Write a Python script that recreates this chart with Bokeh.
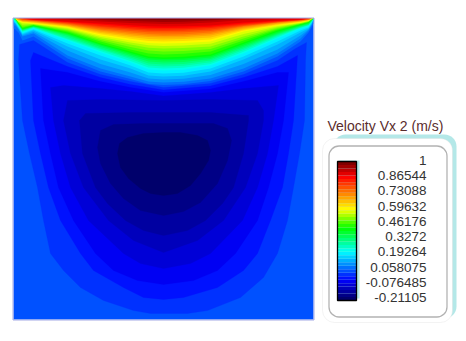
from bokeh.embed import file_html
from bokeh.resources import INLINE
from bokeh.plotting import figure
from bokeh.models import Range1d, BoxAnnotation
from bokeh.core.properties import value

# Colour-bar values
title = "Velocity Vx 2 (m/s)"
tick_values = [1, 0.86544, 0.73088, 0.59632, 0.46176, 0.3272, 0.19264, 0.058075, -0.076485, -0.21105]
tick_labels = ["1", "0.86544", "0.73088", "0.59632", "0.46176", "0.3272", "0.19264", "0.058075", "-0.076485", "-0.21105"]
vmin, vmax = -0.21105, 1.0
n_bands = 40

# Cavity coordinates: x along the lid, d depth below the lid
cavity_w, cavity_d = 300, 301

# Closed Vx isolines around the vortex (band edge number -> outline)
L8_x = [9,16,24,30,37,50,67,90,120,137,174,194,227,250,264,274,280,286,291,292,293,282,264,230,197,150,117,87,54,20,6,5]
L8_d = [102,135,169,202,235,252,269,282,292,295,295,292,279,259,235,202,169,135,102,42,24,30,42,56,65,69,63,56,44,22,26,42]
L7_x = [20,27,35,47,67,80,110,130,150,170,204,230,244,257,269,275,280,284,264,230,197,150,117,87,54,20,17]
L7_d = [102,135,169,202,235,252,269,279,281,279,269,252,235,202,169,135,102,37,48,59,67.5,71.5,66,59,48,34,42]
L6_x = [30,37,45,60,82,100,124,150,180,204,222,244,255,264,270,275,264,230,197,150,117,87,54,27]
L6_d = [102,135,169,202,235,252,262,266,262,252,235,202,169,135,102,54,54,63,70.5,74,69,63,54,50]
L5_x = [40,47,57,75,110,127,150,177,197,229,244,254,260,265,230,197,150,117,87,50,37]
L5_d = [102,135,169,202,235,245,250,245,235,202,169,135,102,67,70,74,77.5,73,70,67,69]
L4_x = [50,57,70,95,120,150,184,210,232,244,250,250,244,197,150,117,87,54]
L4_d = [102,135,169,202,222,234,222,202,169,135,102,92,82,81,82,81.5,81,82]
L3_x = [66,69,82,94,112,130,150,174,192,209,220,230,235,235,197,150,117,72]
L3_d = [102,135,169,185,202,212,217,212,202,185,169,135,102,97,94,94,94,95]
L2_x = [84,87,97,110,127,150,170,187,204,214,218,214,200,167,130,100,87]
L2_d = [129,145,165,180,192,197,193,184,165,142,122,110,105,105,105,106,112]
L1_x = [104,107,115,127,137,150,164,177,187,195,197,194,184,167,150,130,114,106]
L1_d = [135,149,160,170,175,177,175,167,155,142,132,122,117,114,114,115,119,125]

# Open isolines under the lid: depth at each station
arc_x = [0,2,5,9,20,54,87,117,135,150,170,197,230,264,287,295,298,300]
L09 = [10,11,14,22,18,40,53,60.5,65.5,66.5,65.8,62.5,53,38,23,14,9,5]
L10 = [7,7,11,18,15,37,50,58,63,64,63.3,60,50,35,20,12,7,3]
L11 = [4,5.4,10.2,17,13.5,32,45.5,54,60,61,60.3,56.5,45.5,31,17,11,6.2,1]
L12 = [3,4.8,9.4,16,12,28,41,50,57,58,57.3,53,41,26,14,10,5.4,.7]
L13 = [2,4.2,8.6,15,11,25,37,47,54,55,54.3,50,38,23,12,9,4.6,.4]
L14 = [1,3.6,7.8,14,10,22,34,44,51,52,51.3,47,35,20,10,8,3.8,.2]
L15 = [0,3,7,13.2,9.5,21,32.5,42.5,49,50,49.3,45.5,33.3,18.8,9.5,7,3.4,0]
L16 = [0,2.2,6.6,12.6,9,20,31,40.5,47,48,47.3,43.7,31.5,17.5,9,6.6,3,0]
L17 = [0,1.5,6.2,12,8.6,18.5,30,39,45,46,45.5,42,30,16.5,8.4,6.2,2.6,0]
L18 = [0,.5,5.8,11.5,8.2,17,28.5,37.5,43,44,43.5,40.5,28.5,15.5,7.8,5.6,2.2,0]
L19 = [0,0,5.4,11,7.8,16,27,36,41,42,41.5,39,27,14.5,7.2,5,1.8,0]
L20 = [0,0,5,10.5,7.4,15,26,34.5,39.5,40.5,40,37.5,25.5,13.2,6.6,4.5,1.4,0]
L21 = [0,0,4.7,10,7,14,25,33,38,39,38.3,36,24,12,6,4,1,0]
L22 = [0,0,4.3,9,6.6,13,23,31,35,36,35.3,33,22,11,5.6,3.6,.9,0]
L23 = [0,0,3.9,8,6.2,12,21.5,28.5,32,33,32.4,30.5,20,10,5.2,3.2,.8,0]
L24 = [0,0,3.5,6.5,5.8,11,20,26,29.2,30,29.5,28,18,9,4.8,2.8,.7,0]
L25 = [0,0,3.1,5,5.4,10,18.5,24,26.8,27.5,27,25.3,15.5,8,4.4,2.4,.6,0]
L26 = [0,0,2.7,4,5,9,17,22,24.4,25,24.5,23,13,7,4,2,.5,0]
L27 = [0,0,2.2,3.5,4.5,8.4,15.8,20.2,22.4,23,22.6,21,12,6.4,3.6,1.8,.4,0]
L28 = [0,0,1.7,3,4,7.8,14.5,18.5,20.4,21,20.6,19,11,5.8,3.2,1.6,.3,0]
L29 = [0,0,1.2,2.7,3.5,7.2,13.2,17,18.5,19,18.7,17,10,5.2,2.8,1.4,.2,0]
L30 = [0,0,.7,2.2,3,6.6,12,15.4,17,17.5,17.2,15.5,9,4.6,2.4,1.2,.1,0]
L31 = [0,0,.3,1.7,2.5,6,11,14,15.6,16,15.7,14,8,4,2,1,0,0]
L32 = [0,0,0,1.2,2.2,5.3,9.7,12.5,13.7,14,13.7,12.4,7.4,3.7,1.8,.7,0,0]
L33 = [0,0,0,.8,1.9,4.7,8.5,11,12.2,12.5,12.2,10.9,6.7,3.4,1.6,.5,0,0]
L34 = [0,0,0,.3,1.6,4,7.5,9.7,10.7,11,10.8,9.6,6,3,1.4,.3,0,0]
L35 = [0,0,0,0,1.3,3.5,6,8.2,9.2,9.5,9.3,8.2,5,2.5,1.2,.1,0,0]
L36 = [0,0,0,0,1,3,5,6.8,7.7,8,7.8,7,4,2,1,0,0,0]
L37 = [0,0,0,0,0,1,3,4.5,5,5.5,5.2,4,1.5,.5,0,0,0,0]
L38 = [0,0,0,0,0,.5,1.5,2.5,3,3.5,3.2,2,.5,0,0,0,0,0]
L39 = [0,0,0,0,0,0,.5,1,1.3,1.5,1.3,1,0,0,0,0,0,0]

# Colour ramp: position on the bar -> red, green, blue
ramp_pos = [0.0, 0.14, 0.345, 0.52, 0.66, 0.9, 1.0]
ramp_r = [0, 0, 0, 0, 1, 1, 0.5]
ramp_g = [0, 0, 1, 1, 1, 0, 0]
ramp_b = [0.42, 1, 1, 0, 0, 0, 0]


def lerp(t, ys):
    for i in range(len(ramp_pos) - 1):
        if t <= ramp_pos[i + 1]:
            f = (t - ramp_pos[i]) / (ramp_pos[i + 1] - ramp_pos[i])
            return ys[i] + f * (ys[i + 1] - ys[i])
    return ys[-1]


def band_colour(k):
    t = k / (n_bands - 1)
    return "#%02x%02x%02x" % tuple(round(255 * lerp(t, c)) for c in (ramp_r, ramp_g, ramp_b))


p = figure(width=466, height=341, output_backend="svg", toolbar_location=None,
           x_range=Range1d(-13, 453), y_range=Range1d(323, -18),
           x_axis_type=None, y_axis_type=None, min_border=0,
           outline_line_color=None, background_fill_color="white", border_fill_color="white")
p.grid.visible = False

# Value scales of the colour bar and of its labels (both on the legend's own axis)
per_px = (vmax - vmin) / 139.0
p.extra_y_ranges["bar"] = Range1d(vmax - per_px * (323 - 143), vmax + per_px * (143 + 18))
tick_per_px = (vmax - vmin) / 137.0
p.extra_y_ranges["ticks"] = Range1d(vmax - tick_per_px * (323 - 142), vmax + tick_per_px * (142 + 18))

# Field
p.quad(left=0, right=cavity_w, top=0, bottom=cavity_d, fill_color=band_colour(8), line_color=None)
closed = [(7, L8_x, L8_d), (6, L7_x, L7_d), (5, L6_x, L6_d), (4, L5_x, L5_d),
          (3, L4_x, L4_d), (2, L3_x, L3_d), (1, L2_x, L2_d), (0, L1_x, L1_d)]
for band, xs, ds in closed:
    p.patch(xs, ds, fill_color=band_colour(band), line_color=band_colour(band), line_width=0.3)
arcs = [L09, L10, L11, L12, L13, L14, L15, L16, L17, L18, L19, L20, L21, L22, L23, L24,
        L25, L26, L27, L28, L29, L30, L31, L32, L33, L34, L35, L36, L37, L38, L39]
for i, ds in enumerate(arcs):
    band = 9 + i
    p.patch(arc_x + [cavity_w, 0], ds + [0, 0], fill_color=band_colour(band), line_color=None)
p.quad(left=-0.5, right=cavity_w + 0.5, top=-0.5, bottom=cavity_d + 0.5, fill_color=None,
       line_color="#a3a9e6", line_width=1)

# Legend panel
p.add_layout(BoxAnnotation(left=320, right=443, top=116, bottom=300, border_radius=12, level="underlay",
                           fill_color="#b4e8e8", fill_alpha=1, line_color=None))
p.add_layout(BoxAnnotation(left=309, right=439, top=120, bottom=304, border_radius=12, level="underlay",
                           fill_color="white", fill_alpha=1, line_color="#d8d8d8", line_width=1))
p.add_layout(BoxAnnotation(left=315.5, right=433.5, top=127.5, bottom=298.5, border_radius=10, level="underlay",
                           fill_color="white", fill_alpha=1, line_color="black", line_width=1.3))
p.text(x=[314], y=[107], text=[title], text_font=value("Liberation Sans"), text_font_size="14px",
       text_color="#5a2d2d", text_align="left", text_baseline="middle")

# Colour bar
p.quad(left=[326], right=[346], top=[142], bottom=[280], fill_color="#b4e8e8", line_color=None)
step = (vmax - vmin) / n_bands
lows = [vmin + k * step for k in range(n_bands)]
highs = [vmin + (k + 1) * step for k in range(n_bands)]
p.quad(left=324, right=343, bottom=lows, top=highs, y_range_name="bar",
       fill_color=[band_colour(k) for k in range(n_bands)], line_color=None)
p.quad(left=[324], right=[343], bottom=[vmin], top=[vmax], y_range_name="bar",
       fill_color=None, line_color="black", line_width=1.3)
p.text(x=[413] * len(tick_values), y=tick_values, text=tick_labels, y_range_name="ticks",
       text_font=value("Liberation Sans"), text_font_size="13.5px", text_color="#333333",
       text_align="right", text_baseline="middle")

open("out.html", "w").write(file_html(p, INLINE))
